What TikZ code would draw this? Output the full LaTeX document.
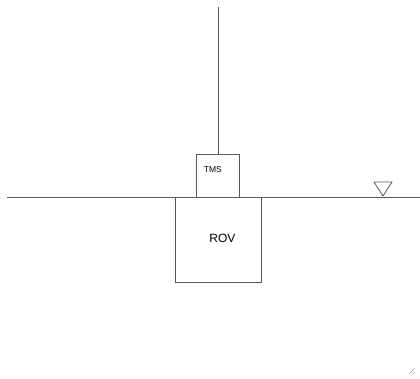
\documentclass[tikz,border=0pt]{standalone}
\usepackage{fontspec}
\setmainfont{Liberation Sans}
\begin{document}
\begin{tikzpicture}[x=1pt,y=-1pt,
  ln/.style={draw=black!65,line width=0.8pt},
  boxs/.style={ln,fill=white,inner sep=0pt,anchor=north west}]
\useasboundingbox (0,0) rectangle (420,379);
\coordinate (sL) at (7,197);
\coordinate (sR) at (420,197);
\draw[ln] (sL) -- (sR);
\node[boxs,minimum width=86pt,minimum height=85pt] (rov) at (175,197) {};
\node[font=\fontsize{12}{14}\selectfont] at ([xshift=4pt,yshift=2pt]rov.center) {ROV};
\node[boxs,minimum width=43pt,minimum height=43pt] (tms) at (196,154) {};
\node[font=\fontsize{8.5}{10}\selectfont] at ([xshift=-5pt,yshift=6pt]tms.center) {TMS};
\coordinate (top) at (218,7);
\draw[ln] (top) -- (tms.north -| top);
\draw[ln] (374,182) -- (392,182) -- (383,196) -- cycle;
\draw[black!35,line width=0.5pt] (409,374) -- (415,368) (413,374) -- (415,372);
\end{tikzpicture}
\end{document}
